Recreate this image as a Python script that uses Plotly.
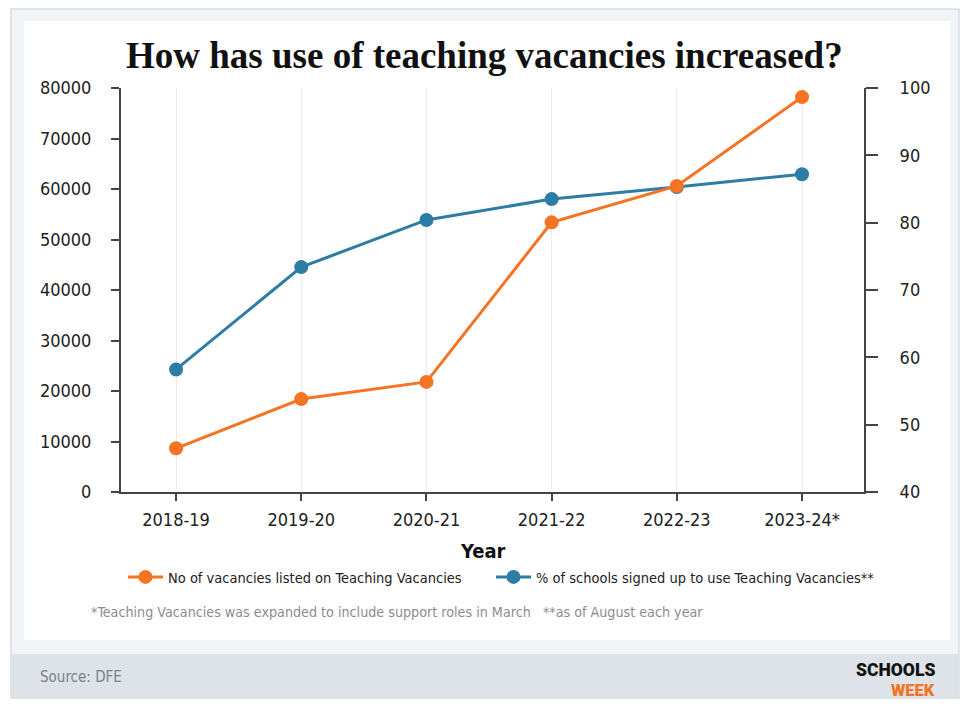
import plotly.graph_objects as go

# data
years = ['2018-19', '2019-20', '2020-21', '2021-22', '2022-23', '2023-24*']
vacancies = [8650, 18400, 21800, 53400, 60600, 78200]
pct_signed_up = [58.2, 73.4, 80.4, 83.5, 85.3, 87.2]

vac_ticks = [0, 10000, 20000, 30000, 40000, 50000, 60000, 70000, 80000]
pct_ticks = [40, 50, 60, 70, 80, 90, 100]

orange = '#f47424'
blue = '#2d7ca5'
narrow = 'DejaVu Sans Condensed, Liberation Sans Narrow, sans-serif'

# the page adds an 8px body margin, so the figure is 8px smaller and shifted
OFF = 8
W, H = 970 - OFF, 708 - OFF
L, T = 121 - OFF, 88 - OFF
R = W - (864 - OFF)
B = H - (492 - OFF)
pw = W - L - R
ph = H - T - B


def px(x):
    # x in reference-picture pixels -> paper
    return (x - OFF - L) / pw


def py(y):
    return (H - B - (y - OFF)) / ph


fig = go.Figure()

# blue on the primary (right) axis, orange on the overlaying axis so it draws on top
fig.add_trace(go.Scatter(
    x=years, y=pct_signed_up, name='% of schools signed up to use Teaching Vacancies**',
    mode='lines+markers', yaxis='y', legend='legend2',
    line=dict(color=blue, width=3), marker=dict(color=blue, size=14)))
fig.add_trace(go.Scatter(
    x=years, y=vacancies, name='No of vacancies listed on Teaching Vacancies',
    mode='lines+markers', yaxis='y2', legend='legend',
    line=dict(color=orange, width=3), marker=dict(color=orange, size=14)))

axis_common = dict(showline=True, linecolor='#444', linewidth=2, ticks='outside',
                   tickcolor='#444', tickwidth=2, showgrid=False, zeroline=False,
                   tickfont=dict(family=narrow, size=18, color='#222'))
legend_common = dict(orientation='h', xanchor='left', yanchor='middle', itemwidth=35,
                     font=dict(family=narrow, size=14.5, color='#222'),
                     bgcolor='rgba(0,0,0,0)')

fig.update_layout(
    width=W, height=H,
    margin=dict(l=L, r=R, t=T, b=B, autoexpand=False),
    paper_bgcolor='white', plot_bgcolor='rgba(0,0,0,0)',
    showlegend=True,
    legend=dict(x=px(123), y=py(577), **legend_common),
    legend2=dict(x=px(491), y=py(577), **legend_common),
    xaxis=dict(type='category', range=[-0.44, 5.495], showline=True, linecolor='#444',
               linewidth=2, ticks='outside', ticklen=7, tickcolor='#444', tickwidth=2,
               showgrid=True, gridcolor='#ececec', gridwidth=1, ticklabelstandoff=3,
               tickfont=dict(family=narrow, size=18, color='#222')),
    yaxis=dict(side='right', range=[40, 100], tickvals=pct_ticks, ticklen=12,
               ticklabelstandoff=18, **axis_common),
    yaxis2=dict(side='left', overlaying='y', range=[0, 80000], tickvals=vac_ticks,
                tickformat='d', ticklen=8, ticklabelstandoff=16, **axis_common),
    font=dict(family=narrow),
)

# frame, white panel and footer band
fig.add_shape(type='rect', xref='paper', yref='paper', layer='below',
              x0=px(11), x1=px(959), y0=py(9), y1=py(698),
              fillcolor='#f1f4f7', line=dict(color='#d3dde5', width=1.5))
fig.add_shape(type='rect', xref='paper', yref='paper', layer='below',
              x0=px(24), x1=px(950), y0=py(21), y1=py(640),
              fillcolor='white', line=dict(width=0))
fig.add_shape(type='rect', xref='paper', yref='paper', layer='below',
              x0=px(12), x1=px(958), y0=py(654), y1=py(697),
              fillcolor='#dde3e8', line=dict(width=0))

fig.add_annotation(text='<b>How has use of teaching vacancies increased?</b>',
                   xref='paper', yref='paper', x=px(484), y=py(56), showarrow=False,
                   xanchor='center', yanchor='middle',
                   font=dict(family='Liberation Serif, DejaVu Serif, serif', size=37, color='#111'))
fig.add_annotation(text='<b>Year</b>', xref='paper', yref='paper', x=px(483), y=py(551),
                   showarrow=False, xanchor='center', yanchor='middle',
                   font=dict(family=narrow, size=20, color='#111'))
fig.add_annotation(text='*Teaching Vacancies was expanded to include support roles in March'
                        '&nbsp;&nbsp;&nbsp;**as of August each year',
                   xref='paper', yref='paper', x=px(89), y=py(612), showarrow=False,
                   xanchor='left', yanchor='middle',
                   font=dict(family=narrow, size=14.2, color='#8c8c8c'))
fig.add_annotation(text='Source: DFE', xref='paper', yref='paper', x=px(38), y=py(677),
                   showarrow=False, xanchor='left', yanchor='middle',
                   font=dict(family=narrow, size=15, color='#7b8187'))
fig.add_annotation(text='SCHOOLS', xref='paper', yref='paper', x=px(937), y=py(670),
                   showarrow=False, xanchor='right', yanchor='middle',
                   font=dict(family='Roboto, Liberation Sans, sans-serif', size=17.5,
                             weight=900, color='#111'))
fig.add_annotation(text='WEEK', xref='paper', yref='paper', x=px(937), y=py(690),
                   showarrow=False, xanchor='right', yanchor='middle',
                   font=dict(family='Roboto, Liberation Sans, sans-serif', size=16.5,
                             weight=900, color=orange))

fig.write_html('out.html')
